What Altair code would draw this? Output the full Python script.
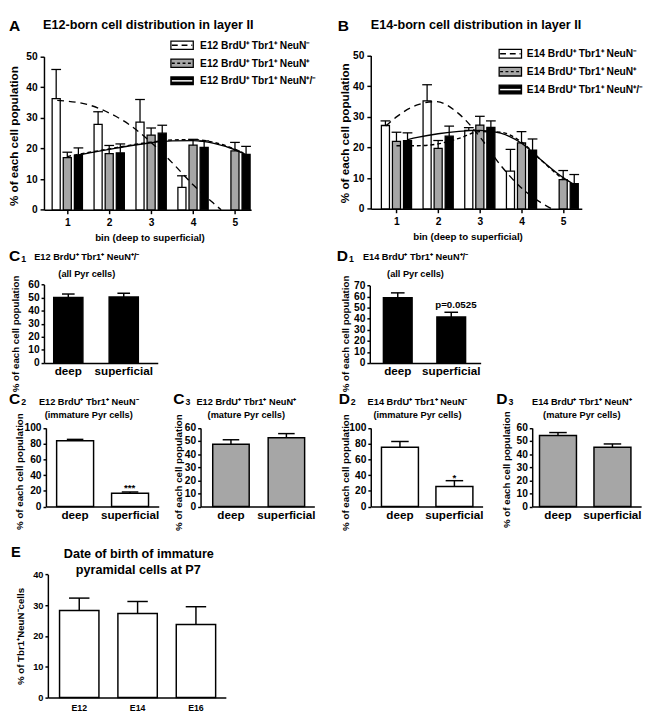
import altair as alt
import pandas as pd

# ---------------- data ----------------
bins = [1, 2, 3, 4, 5]

# Panel A (E12)
A_neg = [36.3, 27.9, 28.6, 7.3, None]
A_neg_err = [45.8, 32.0, 36.0, 11.1, None]
A_pos = [17.0, 18.3, 24.4, 21.1, 19.2]
A_pos_err = [18.8, 21.0, 26.7, 23.0, 22.0]
A_all = [17.8, 18.6, 25.0, 20.4, 18.1]
A_all_err = [20.2, 21.5, 27.6, 22.5, 20.7]
A_fitneg_b = [0.76, 1.5, 2.0, 2.5, 3.0, 3.5, 4.0, 4.5, 4.67]
A_fitneg_v = [35.7, 34.3, 31.6, 27.6, 22.0, 15.4, 8.2, 2.0, 0.0]
A_fitpos_b = [1.0, 1.5, 2.0, 2.5, 3.0, 3.5, 4.0, 4.5, 5.0, 5.2]
A_fitpos_v = [17.4, 18.7, 19.9, 21.1, 22.1, 22.8, 22.9, 22.0, 19.8, 18.6]
A_fitall_b = [1.27, 1.5, 2.0, 2.5, 3.0, 3.5, 4.0, 4.5, 5.0, 5.27]
A_fitall_v = [17.9, 18.5, 19.7, 20.9, 21.9, 22.5, 22.6, 21.7, 19.6, 17.9]

# Panel B (E14)
B_neg = [27.2, 35.2, 25.6, 12.3, None]
B_neg_err = [28.7, 40.5, 26.5, 19.4, None]
B_pos = [22.0, 19.7, 27.3, 21.5, 9.5]
B_pos_err = [25.0, 22.3, 30.2, 25.2, 12.5]
B_all = [22.3, 23.7, 26.6, 19.2, 8.2]
B_all_err = [24.8, 27.0, 28.7, 22.8, 11.2]
B_fitneg_b = [0.74, 1.0, 1.5, 1.95, 2.5, 3.0, 3.5, 4.0, 4.4, 4.73]
B_fitneg_v = [27.0, 30.0, 33.9, 35.0, 31.0, 23.5, 14.2, 6.8, 2.6, 0.0]
B_fitpos_b = [1.0, 1.5, 2.0, 2.5, 3.0, 3.5, 4.0, 4.5, 5.0]
B_fitpos_v = [20.6, 20.6, 21.2, 23.0, 25.2, 25.0, 21.8, 15.5, 9.5]
B_fitall_b = [1.27, 1.5, 2.0, 2.5, 3.0, 3.5, 4.0, 4.5, 5.0, 5.27]
B_fitall_v = [22.6, 23.3, 24.5, 25.3, 25.6, 24.7, 21.4, 15.6, 10.2, 7.9]

layers_cats = ["deep", "superficial"]
C1_vals, C1_errs = [50.0, 50.5], [52.7, 53.3]
D1_vals, D1_errs = [59.0, 41.5], [63.3, 45.8]
C2_vals, C2_errs = [83.8, 16.8], [85.5, 18.5]
C3_vals, C3_errs = [47.5, 52.5], [51.0, 55.7]
D2_vals, D2_errs = [75.5, 25.6], [82.8, 32.9]
D3_vals, D3_errs = [54.2, 45.3], [56.5, 47.8]

E_cats = ["E12", "E14", "E16"]
E_vals = [28.3, 27.3, 23.7]
E_errs = [32.3, 31.2, 29.5]

# ---------------- layout helpers ----------------
W, H = 647, 711
def px(X):
    return X - 3
def py(Y):
    return (Y - 5) * 0.997

MAIN = "Liberation Sans, Arial, Helvetica, sans-serif"
NARROW = "Liberation Sans Narrow, Arial Narrow, Liberation Sans, sans-serif"
GRAY = "#a6a6a6"

layers = []

def txt(s, x, y, size, font=MAIN, align="left", baseline="middle", angle=0):
    return alt.Chart(pd.DataFrame({"t": [s]})).mark_text(
        align=align, baseline=baseline, angle=angle, font=font, fontSize=size,
        fontWeight="bold", color="black"
    ).encode(x=alt.value(px(x)), y=alt.value(py(y)), text="t:N")

def yaxis(xleft, values, fs, font, tick=4, pad=3):
    return alt.Axis(orient="left", offset=-px(xleft), values=values, title=None, grid=False,
                    domainColor="black", domainWidth=1.5, tickColor="black", tickWidth=1.5,
                    tickSize=tick, labelFont=font, labelFontSize=fs, labelFontWeight="bold",
                    labelColor="black", labelPadding=pad, labelOverlap=False, format="d")

def big_panel(series, fits, xr, yr, xdom, legend, legend_x, legend_rows, legend_text_x):
    xsc = alt.Scale(domain=xdom, range=[px(xr[0]), px(xr[1])], nice=False, zero=False)
    ysc = alt.Scale(domain=[0, 50], range=[py(yr[0]), py(yr[1])], nice=False, zero=True)
    xax = alt.Axis(orient="bottom", offset=-(H - py(yr[0])), values=bins, title=None, grid=False,
                   domainColor="black", domainWidth=1.5, tickColor="black", tickWidth=1.5,
                   tickSize=4, labelFont=MAIN, labelFontSize=10.5, labelFontWeight="bold",
                   labelColor="black", labelPadding=4, format="d")
    yax = yaxis(xr[0], [0, 10, 20, 30, 40, 50], 10.5, MAIN, 4, 3)
    X = lambda f: alt.X(f, type="quantitative", scale=xsc, axis=xax)
    Y = lambda f: alt.Y(f, type="quantitative", scale=ysc, axis=yax)
    sub = []
    for vals, errs, fill, off in series:
        df = pd.DataFrame({"b": bins, "v": vals, "e": errs}).dropna()
        df["p"] = df["b"] + off
        base = alt.Chart(df)
        sub.append(base.mark_bar(size=8.3, orient="vertical", fill=fill, stroke="black",
                                 strokeWidth=1.3).encode(x=X("p"), y=Y("v")))
        sub.append(base.mark_rule(color="black", strokeWidth=1.3).encode(
            x=X("p"), y=Y("v"), y2="e"))
        sub.append(base.mark_point(shape="M-1,0L1,0", size=100, filled=False, opacity=1,
                                   stroke="black", strokeWidth=1.3).encode(x=X("p"), y=Y("e")))
    for bx, bv, dash, lw in fits:
        df = pd.DataFrame({"b": bx, "v": bv})
        kw = dict(color="black", strokeWidth=lw, interpolate="monotone")
        if dash:
            kw["strokeDash"] = dash
        sub.append(alt.Chart(df).mark_line(**kw).encode(x=X("b"), y=Y("v")))
    # legend (swatch = bar colour with the fit line style through it)
    for (label, fill, dash, lcol), (y0, y1) in zip(legend, legend_rows):
        one = alt.Chart(pd.DataFrame({"t": [label]}))
        sub.append(one.mark_rect(fill=fill, stroke="black", strokeWidth=1.3).encode(
            x=alt.value(px(legend_x[0])), x2=alt.value(px(legend_x[1])),
            y=alt.value(py(y0)), y2=alt.value(py(y1))))
        kw = dict(color=lcol, strokeWidth=1.5)
        if dash:
            kw["strokeDash"] = dash
        sub.append(one.mark_rule(**kw).encode(
            x=alt.value(px(legend_x[0]) + 1), x2=alt.value(px(legend_x[1]) - 1),
            y=alt.value(py((y0 + y1) / 2))))
        sub.append(txt(label, legend_text_x, (y0 + y1) / 2 + 0.5, 10.5))
    return alt.layer(*sub)

def band_params(xr, lefts, bw):
    n = len(lefts)
    R = xr[1] - xr[0]
    step = (lefts[-1] - lefts[0]) / (n - 1)
    pi = 1 - bw / step
    outer = R - step * (n - pi)
    po = outer / (2 * step)
    al = (lefts[0] - xr[0]) / outer
    return pi, po, al

def small_panel(cats, vals, errs, fill, ymax, ystep, xr, yr, lefts, bw, cap,
                lab_font=NARROW, lab_fs=12, tick_fs=10.5, lab_pad=3, tick_font=NARROW):
    pi, po, al = band_params(xr, lefts, bw)
    xsc = alt.Scale(type="band", range=[px(xr[0]), px(xr[1])], paddingInner=pi,
                    paddingOuter=po, align=al)
    ysc = alt.Scale(domain=[0, ymax], range=[py(yr[0]), py(yr[1])], nice=False, zero=True)
    xax = alt.Axis(orient="bottom", offset=-(H - py(yr[0])), title=None, grid=False,
                   domainColor="black", domainWidth=1.5, ticks=False, tickSize=0,
                   labelFont=lab_font, labelFontSize=lab_fs, labelFontWeight="bold",
                   labelColor="black", labelPadding=lab_pad, labelAngle=0)
    yax = yaxis(xr[0], list(range(0, ymax + 1, ystep)), tick_fs, tick_font, 3, 2)
    df = pd.DataFrame({"c": cats, "v": vals, "e": errs})
    base = alt.Chart(df)
    X = alt.X("c:N", sort=cats, scale=xsc, axis=xax)
    bars = base.mark_bar(fill=fill, stroke="black", strokeWidth=1.5).encode(
        x=X, y=alt.Y("v:Q", scale=ysc, axis=yax))
    rule = base.mark_rule(color="black", strokeWidth=1.5).encode(
        x=X, y=alt.Y("v:Q", scale=ysc, axis=yax), y2="e:Q")
    capm = base.mark_point(shape="M-1,0L1,0", size=cap * cap, filled=False, opacity=1,
                           stroke="black", strokeWidth=1.5).encode(
        x=X, y=alt.Y("e:Q", scale=ysc, axis=yax))
    return alt.layer(bars, rule, capm)

# ---------------- panels A and B ----------------
OFF = 0.265
legA = [("E12 BrdU\u207a Tbr1\u207a NeuN\u207b", "white", [6, 4], "black"),
        ("E12 BrdU\u207a Tbr1\u207a NeuN\u207a", GRAY, [3, 2.5], "black"),
        ("E12 BrdU\u207a Tbr1\u207a NeuN\u207a/\u207b", "black", None, "white")]
legB = [(s.replace("E12", "E14"), f, d, c) for s, f, d, c in legA]

panelA = big_panel(
    [(A_neg, A_neg_err, "white", -OFF), (A_pos, A_pos_err, GRAY, 0.0), (A_all, A_all_err, "black", OFF)],
    [(A_fitneg_b, A_fitneg_v, [7, 5], 1.4), (A_fitpos_b, A_fitpos_v, [4, 3], 1.4),
     (A_fitall_b, A_fitall_v, None, 1.4)],
    xr=(39, 252), yr=(199, 41), xdom=[0.56, 5.27],
    legend=legA, legend_x=(169.5, 192.5), legend_rows=[(25, 33.5), (43.5, 52), (62, 70)],
    legend_text_x=199.5)
panelB = big_panel(
    [(B_neg, B_neg_err, "white", -OFF), (B_pos, B_pos_err, GRAY, 0.0), (B_all, B_all_err, "black", OFF)],
    [(B_fitneg_b, B_fitneg_v, [7, 5], 1.4), (B_fitpos_b, B_fitpos_v, [4, 3], 1.4),
     (B_fitall_b, B_fitall_v, None, 1.4)],
    xr=(375, 592), yr=(198, 40), xdom=[0.5, 5.33],
    legend=legB, legend_x=(507, 530), legend_rows=[(33.5, 42.5), (52, 61), (70.5, 79.5)],
    legend_text_x=535.5)
layers += [panelA, panelB]

# ---------------- small panels ----------------
layers.append(small_panel(layers_cats, C1_vals, C1_errs, "black", 60, 10,
                          (39, 156), (357, 276), [49, 106], 30, 13))
layers.append(small_panel(layers_cats, D1_vals, D1_errs, "black", 70, 10,
                          (374, 488), (357, 277), [388, 443], 29.5, 14))
layers.append(small_panel(layers_cats, C2_vals, C2_errs, "white", 100, 20,
                          (41, 157), (505, 424), [52, 108.5], 38, 17))
layers.append(small_panel(layers_cats, C3_vals, C3_errs, GRAY, 60, 10,
                          (200, 317), (505, 424), [212.5, 269.5], 37.5, 17))
layers.append(small_panel(layers_cats, D2_vals, D2_errs, "white", 100, 20,
                          (375, 490), (505, 424), [386, 442], 38, 18))
layers.append(small_panel(layers_cats, D3_vals, D3_errs, GRAY, 60, 10,
                          (541, 653), (505, 424), [548.5, 604.5], 38, 18))
layers.append(small_panel(E_cats, E_vals, E_errs, "white", 40, 10,
                          (43, 226), (702, 575), [55, 115, 175], 40.5, 21,
                          lab_font=MAIN, lab_fs=9, tick_fs=9.5, lab_pad=6, tick_font=MAIN))

# ---------------- texts ----------------
T = []
T.append(txt("A", 3, 10, 16))
T.append(txt("E12-born cell distribution in layer II", 38, 8.5, 13))
T.append(txt("B", 341, 10, 16))
T.append(txt("E14-born cell distribution in layer II", 375, 8.5, 13))
T.append(txt("% of each cell population", 8.5, 123, 12, angle=270, align="center"))
T.append(txt("% of each cell population", 348.5, 120, 12, angle=270, align="center"))
T.append(txt("bin (deep to superficial)", 148, 228, 10, align="center"))
T.append(txt("bin (deep to superficial)", 475, 227, 10, align="center"))

letters = [("C", "1", 3, 246.5), ("D", "1", 340, 246.5), ("C", "2", 3, 394),
           ("C", "3", 172, 394), ("D", "2", 342, 394), ("D", "3", 504, 394)]
for L, sub_, x, y in letters:
    T.append(txt(L, x, y, 16))
    T.append(txt(sub_, x + 12.5, y + 3.5, 9))

small_titles = [
    ("E12 BrdU\u207a Tbr1\u207a NeuN\u207a/\u207b", "(all Pyr cells)", 83, 248, 265),
    ("E14 BrdU\u207a Tbr1\u207a NeuN\u207a/\u207b", "(all Pyr cells)", 421, 248, 265),
    ("E12 BrdU\u207a Tbr1\u207a NeuN\u207b", "(immature Pyr cells)", 85, 397, 411),
    ("E12 BrdU\u207a Tbr1\u207a NeuN\u207a", "(mature Pyr cells)", 247, 397, 411),
    ("E14 BrdU\u207a Tbr1\u207a NeuN\u207b", "(immature Pyr cells)", 423, 397, 411),
    ("E14 BrdU\u207a Tbr1\u207a NeuN\u207a", "(mature Pyr cells)", 592, 397, 411),
]
for l1, l2, cx, y1, y2 in small_titles:
    T.append(txt(l1, cx, y1, 9.5, font=NARROW, align="center"))
    T.append(txt(l2, cx, y2, 9.5, font=NARROW, align="center"))

for x, y in [(10, 327), (350, 327), (14, 469), (178, 470), (350, 470), (515, 467)]:
    T.append(txt("% of each cell population", x, y, 10, font=NARROW, angle=270, align="center"))

T.append(txt("p=0.0525", 462.5, 297, 10, font=NARROW, align="center"))
T.append(txt("***", 127, 486, 10, align="center"))
T.append(txt("*", 461, 476, 10, align="center"))

T.append(txt("E", 5, 552.5, 15))
T.append(txt("Date of birth of immature", 136.5, 554, 13, align="center"))
T.append(txt("pyramidal cells at P7", 136, 570.5, 13, align="center"))
T.append(txt("% of Tbr1\u207aNeuN\u207bcells", 15, 639, 10, angle=270, align="center"))

layers += T

chart = alt.layer(*layers).resolve_scale(x="independent", y="independent").properties(
    width=W, height=H, padding=0
).configure_view(stroke=None).configure_axis(grid=False)

chart.save("out.html", embed_options={"renderer": "svg", "actions": False})
